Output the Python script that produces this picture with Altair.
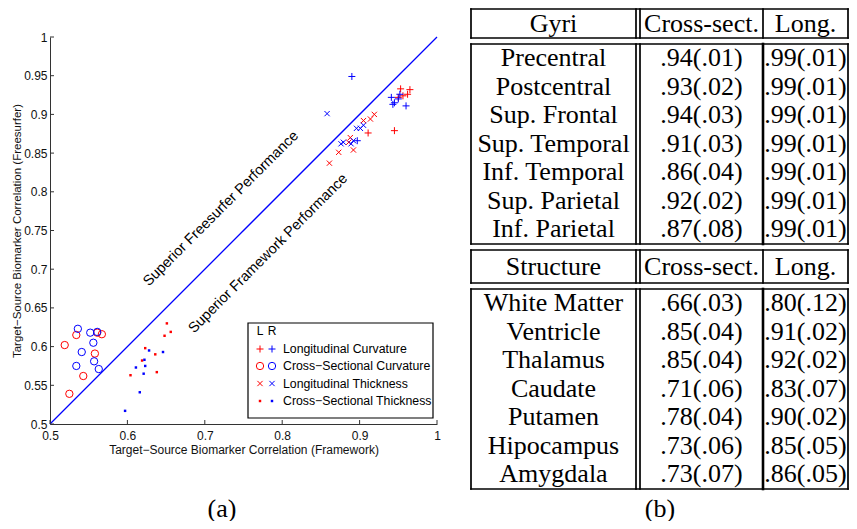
import altair as alt
import pandas as pd

# ---------------- scatter data (x = Framework, y = Freesurfer) ----------------
lc_L_x = [0.953, 0.965, 0.962, 0.950, 0.956, 0.911, 0.945]
lc_L_y = [0.933, 0.932, 0.926, 0.922, 0.924, 0.876, 0.879]
lc_R_x = [0.890, 0.941, 0.952, 0.950, 0.945, 0.943, 0.960, 0.897]
lc_R_y = [0.949, 0.922, 0.926, 0.920, 0.915, 0.913, 0.911, 0.866]

cc_L_x = [0.519, 0.534, 0.561, 0.567, 0.558, 0.543, 0.525]
cc_L_y = [0.602, 0.615, 0.618, 0.616, 0.591, 0.562, 0.539]
cc_R_x = [0.536, 0.552, 0.561, 0.556, 0.541, 0.534, 0.557, 0.563]
cc_R_y = [0.623, 0.618, 0.619, 0.605, 0.593, 0.575, 0.581, 0.571]

lt_L_x = [0.905, 0.914, 0.919, 0.888, 0.886, 0.892, 0.873, 0.861]
lt_L_y = [0.892, 0.894, 0.900, 0.870, 0.864, 0.854, 0.851, 0.837]
lt_R_x = [0.858, 0.876, 0.879, 0.889, 0.892, 0.896, 0.901, 0.905]
lt_R_y = [0.901, 0.862, 0.864, 0.862, 0.866, 0.882, 0.882, 0.886]

ct_L_x = [0.651, 0.656, 0.648, 0.623, 0.636, 0.619, 0.604, 0.638]
ct_L_y = [0.630, 0.619, 0.614, 0.598, 0.590, 0.582, 0.563, 0.567]
ct_R_x = [0.628, 0.646, 0.622, 0.623, 0.611, 0.621, 0.616, 0.597]
ct_R_y = [0.595, 0.593, 0.583, 0.575, 0.573, 0.565, 0.541, 0.517]

x_ticks = [0.5, 0.6, 0.7, 0.8, 0.9, 1.0]
y_ticks = [0.5, 0.55, 0.6, 0.65, 0.7, 0.75, 0.8, 0.85, 0.9, 0.95, 1.0]
diag = [0.5, 1.0]

series_names = ["Longitudinal Curvature", "Cross\u2212Sectional Curvature",
                "Longitudinal Thickness", "Cross\u2212Sectional Thickness"]
side_names = ["L", "R"]
annotations = ["Superior Freesurfer Performance", "Superior Framework Performance"]
annot_x = [0.721, 0.782]
annot_y = [0.778, 0.720]

# ---------------- table data ----------------
gyri = ["Precentral", "Postcentral", "Sup. Frontal", "Sup. Temporal",
        "Inf. Temporal", "Sup. Parietal", "Inf. Parietal"]
gyri_cross = [".94(.01)", ".93(.02)", ".94(.03)", ".91(.03)", ".86(.04)", ".92(.02)", ".87(.08)"]
gyri_long = [".99(.01)", ".99(.01)", ".99(.01)", ".99(.01)", ".99(.01)", ".99(.01)", ".99(.01)"]
structures = ["White Matter", "Ventricle", "Thalamus", "Caudate", "Putamen", "Hipocampus", "Amygdala"]
struct_cross = [".66(.03)", ".85(.04)", ".85(.04)", ".71(.06)", ".78(.04)", ".73(.06)", ".73(.07)"]
struct_long = [".80(.12)", ".91(.02)", ".92(.02)", ".83(.07)", ".90(.02)", ".85(.05)", ".86(.05)"]
gyri_header = ["Gyri", "Cross-sect.", "Long."]
struct_header = ["Structure", "Cross-sect.", "Long."]
captions = ["(a)", "(b)"]

# ---------------- layout (page pixel coordinates) ----------------
OFF = 8
W, H = 841, 513
P_L, P_R, P_T, P_B = 50, 437, 37, 424
SANS = "Liberation Sans"
SERIF = "Liberation Serif"
RED, BLUE = "#ff0000", "#0000ff"
AX_COLOR = "#333333"


def to_dx(px):
    return 0.5 + (px - P_L) / (P_R - P_L) * 0.5


def to_dy(py):
    return 0.5 + (P_B - py) / (P_B - P_T) * 0.5


XS = alt.Scale(domain=[0.5, 1.0], range=[P_L - OFF, P_R - OFF], nice=False, zero=False)
YS = alt.Scale(domain=[0.5, 1.0], range=[P_B - OFF, P_T - OFF], nice=False, zero=False)

XAX = alt.Axis(values=x_ticks, format="~g", title="Target\u2212Source Biomarker Correlation (Framework)",
               offset=(P_B - OFF) - H, ticks=False, grid=False, labelFlush=False, labelOverlap=False,
               labelPadding=6, titlePadding=3, domainColor=AX_COLOR, domainWidth=1,
               labelFont=SANS, titleFont=SANS, labelFontSize=12, titleFontSize=12,
               titleFontWeight="normal", labelColor="#111", titleColor="#111")
YAX = alt.Axis(values=y_ticks, format="~g", title="Target\u2212Source Biomarker Correlation (Freesurfer)",
               offset=-(P_L - OFF), ticks=False, grid=False, labelFlush=False, labelOverlap=False,
               labelPadding=3, titlePadding=1, domainColor=AX_COLOR, domainWidth=1,
               labelFont=SANS, titleFont=SANS, labelFontSize=12, titleFontSize=11.5,
               titleFontWeight="normal", labelColor="#111", titleColor="#111")


def X(f="x"):
    return alt.X(f, type="quantitative", scale=XS, axis=XAX)


def Y(f="y"):
    return alt.Y(f, type="quantitative", scale=YS, axis=YAX)


COLOR = alt.Color("side:N", scale=alt.Scale(domain=side_names, range=[RED, BLUE]), legend=None)

# legend geometry (page px)
LEG_BOX = (248, 323, 433, 418)
LEG_COL = [260, 272]
LEG_LABEL_X = 283
LEG_HEAD_Y = 331
LEG_ROW_Y = [349, 366, 383.5, 401]
TICK_LEN = 4 / (P_R - P_L) * 0.5

# ---------------- scatter layers ----------------
legend_box = alt.Chart(pd.DataFrame({
    "x": [to_dx(LEG_BOX[0])], "x2": [to_dx(LEG_BOX[2])],
    "y": [to_dy(LEG_BOX[3])], "y2": [to_dy(LEG_BOX[1])]})).mark_rect(
    fill="white", stroke="black", strokeWidth=1.2).encode(
    x=X(), x2="x2", y=Y(), y2="y2")

diag_line = alt.Chart(pd.DataFrame({"x": diag, "y": diag})).mark_line(
    color=BLUE, strokeWidth=1.3).encode(x=X(), y=Y())

xt = alt.Chart(pd.DataFrame({"x": x_ticks, "y": [0.5] * len(x_ticks),
                             "y2": [0.5 + TICK_LEN] * len(x_ticks)})).mark_rule(
    color=AX_COLOR, strokeWidth=1).encode(x=X(), y=Y(), y2="y2")
yt = alt.Chart(pd.DataFrame({"y": y_ticks, "x": [0.5] * len(y_ticks),
                             "x2": [0.5 + TICK_LEN] * len(y_ticks)})).mark_rule(
    color=AX_COLOR, strokeWidth=1).encode(x=X(), x2="x2", y=Y())

annot = alt.Chart(pd.DataFrame({"x": annot_x, "y": annot_y, "t": annotations})).mark_text(
    angle=315, font=SANS, fontSize=14.5, color="black", align="center", baseline="middle").encode(
    x=X(), y=Y(), text="t:N")

PLUS = "M-1,0H1M0,-1V1"
XMARK = "M-0.75,-0.75L0.75,0.75M0.75,-0.75L-0.75,0.75"
marker_specs = [
    dict(shape=PLUS, size=49, filled=False, strokeWidth=1),
    dict(shape="circle", size=54, filled=False, strokeWidth=1),
    dict(shape=XMARK, size=49, filled=False, strokeWidth=1),
    dict(shape="square", size=6, filled=True, strokeWidth=0),
]
series_xy = [(lc_L_x, lc_L_y, lc_R_x, lc_R_y), (cc_L_x, cc_L_y, cc_R_x, cc_R_y),
             (lt_L_x, lt_L_y, lt_R_x, lt_R_y), (ct_L_x, ct_L_y, ct_R_x, ct_R_y)]

point_layers = []
for i, ((lx, ly, rx, ry), spec) in enumerate(zip(series_xy, marker_specs)):
    df = pd.DataFrame({
        "x": lx + rx + [to_dx(LEG_COL[0]), to_dx(LEG_COL[1])],
        "y": ly + ry + [to_dy(LEG_ROW_Y[i])] * 2,
        "side": ["L"] * len(lx) + ["R"] * len(rx) + side_names,
    })
    point_layers.append(alt.Chart(df).mark_point(opacity=1, **spec).encode(
        x=X(), y=Y(), color=COLOR))

leg_head = alt.Chart(pd.DataFrame({"x": [to_dx(c) for c in LEG_COL],
                                   "y": [to_dy(LEG_HEAD_Y)] * 2, "t": side_names})).mark_text(
    font=SANS, fontSize=12, color="black", align="center", baseline="middle").encode(
    x=X(), y=Y(), text="t:N")
leg_text = alt.Chart(pd.DataFrame({"x": [to_dx(LEG_LABEL_X)] * 4,
                                   "y": [to_dy(v) for v in LEG_ROW_Y], "t": series_names})).mark_text(
    font=SANS, fontSize=12.3, color="black", align="left", baseline="middle").encode(
    x=X(), y=Y(), text="t:N")

scatter = alt.layer(legend_box, diag_line, xt, yt, annot, *point_layers, leg_head, leg_text)

# ---------------- table layers (pixel scales) ----------------
TBL_X = [471, 636, 640, 763, 848]
COL_C = [(TBL_X[0] + TBL_X[1]) / 2, (TBL_X[2] + TBL_X[3]) / 2, (TBL_X[3] + TBL_X[4]) / 2]
ROW_H = 28.5
ROW_OFF = 14
BODY_H = 2 * ROW_OFF + 6 * ROW_H + 1
BLOCKS = [dict(top=9, hh=29, gap=6), dict(top=250, hh=33, gap=6)]
LW, LW_MID = 1.7, 2.6
CAPTION_XY = [(222, 508.5), (660, 508.5)]

TSX = alt.Scale(domain=[0, W], range=[0, W], nice=False, zero=False)
TSY = alt.Scale(domain=[0, H], range=[0, H], nice=False, zero=False)


def vx(px):
    return px - OFF


def vy(py):
    return py - OFF


cells = []
lines = []
for b, (hdr, names, cross, long_) in enumerate([(gyri_header, gyri, gyri_cross, gyri_long),
                                                (struct_header, structures, struct_cross, struct_long)]):
    blk = BLOCKS[b]
    top = blk["top"]
    hb = top + blk["hh"]
    bt = hb + blk["gap"]
    bb = bt + BODY_H
    for j, t in enumerate(hdr):
        cells.append(dict(tx=vx(COL_C[j]), ty=vy((top + hb) / 2), t=t))
    for i in range(len(names)):
        yy = vy(bt + ROW_OFF + ROW_H * i)
        for j, t in enumerate([names[i], cross[i], long_[i]]):
            cells.append(dict(tx=vx(COL_C[j]), ty=yy, t=t))
    for yv in [top, hb, bt, bb]:
        lines.append(dict(x=vx(TBL_X[0]), x2=vx(TBL_X[-1]), y=vy(yv), y2=vy(yv), w=LW))
    for j, xv in enumerate(TBL_X):
        lines.append(dict(x=vx(xv), x2=vx(xv), y=vy(top), y2=vy(hb), w=LW))
        lines.append(dict(x=vx(xv), x2=vx(xv), y=vy(bt), y2=vy(bb), w=LW_MID if j == 3 else LW))

for (cx, cy), t in zip(CAPTION_XY, captions):
    cells.append(dict(tx=vx(cx), ty=vy(cy), t=t))

tbl_text = alt.Chart(pd.DataFrame(cells)).mark_text(
    font=SERIF, fontSize=26, color="black", align="center", baseline="middle").encode(
    x=alt.X("tx:Q", scale=TSX, axis=None), y=alt.Y("ty:Q", scale=TSY, axis=None), text="t:N")
tbl_lines = alt.Chart(pd.DataFrame(lines)).mark_rule(color="black", strokeCap="square").encode(
    x=alt.X("x:Q", scale=TSX, axis=None), x2="x2", y=alt.Y("y:Q", scale=TSY, axis=None), y2="y2",
    strokeWidth=alt.StrokeWidth("w:Q", scale=None))

table = alt.layer(tbl_lines, tbl_text)

chart = alt.layer(scatter, table).resolve_scale(x="independent", y="independent").properties(
    width=W, height=H, autosize=alt.AutoSizeParams(type="none"), padding=0,
    background="white").configure_view(stroke=None)

chart.save("out.html", embed_options={"renderer": "svg", "actions": False})
